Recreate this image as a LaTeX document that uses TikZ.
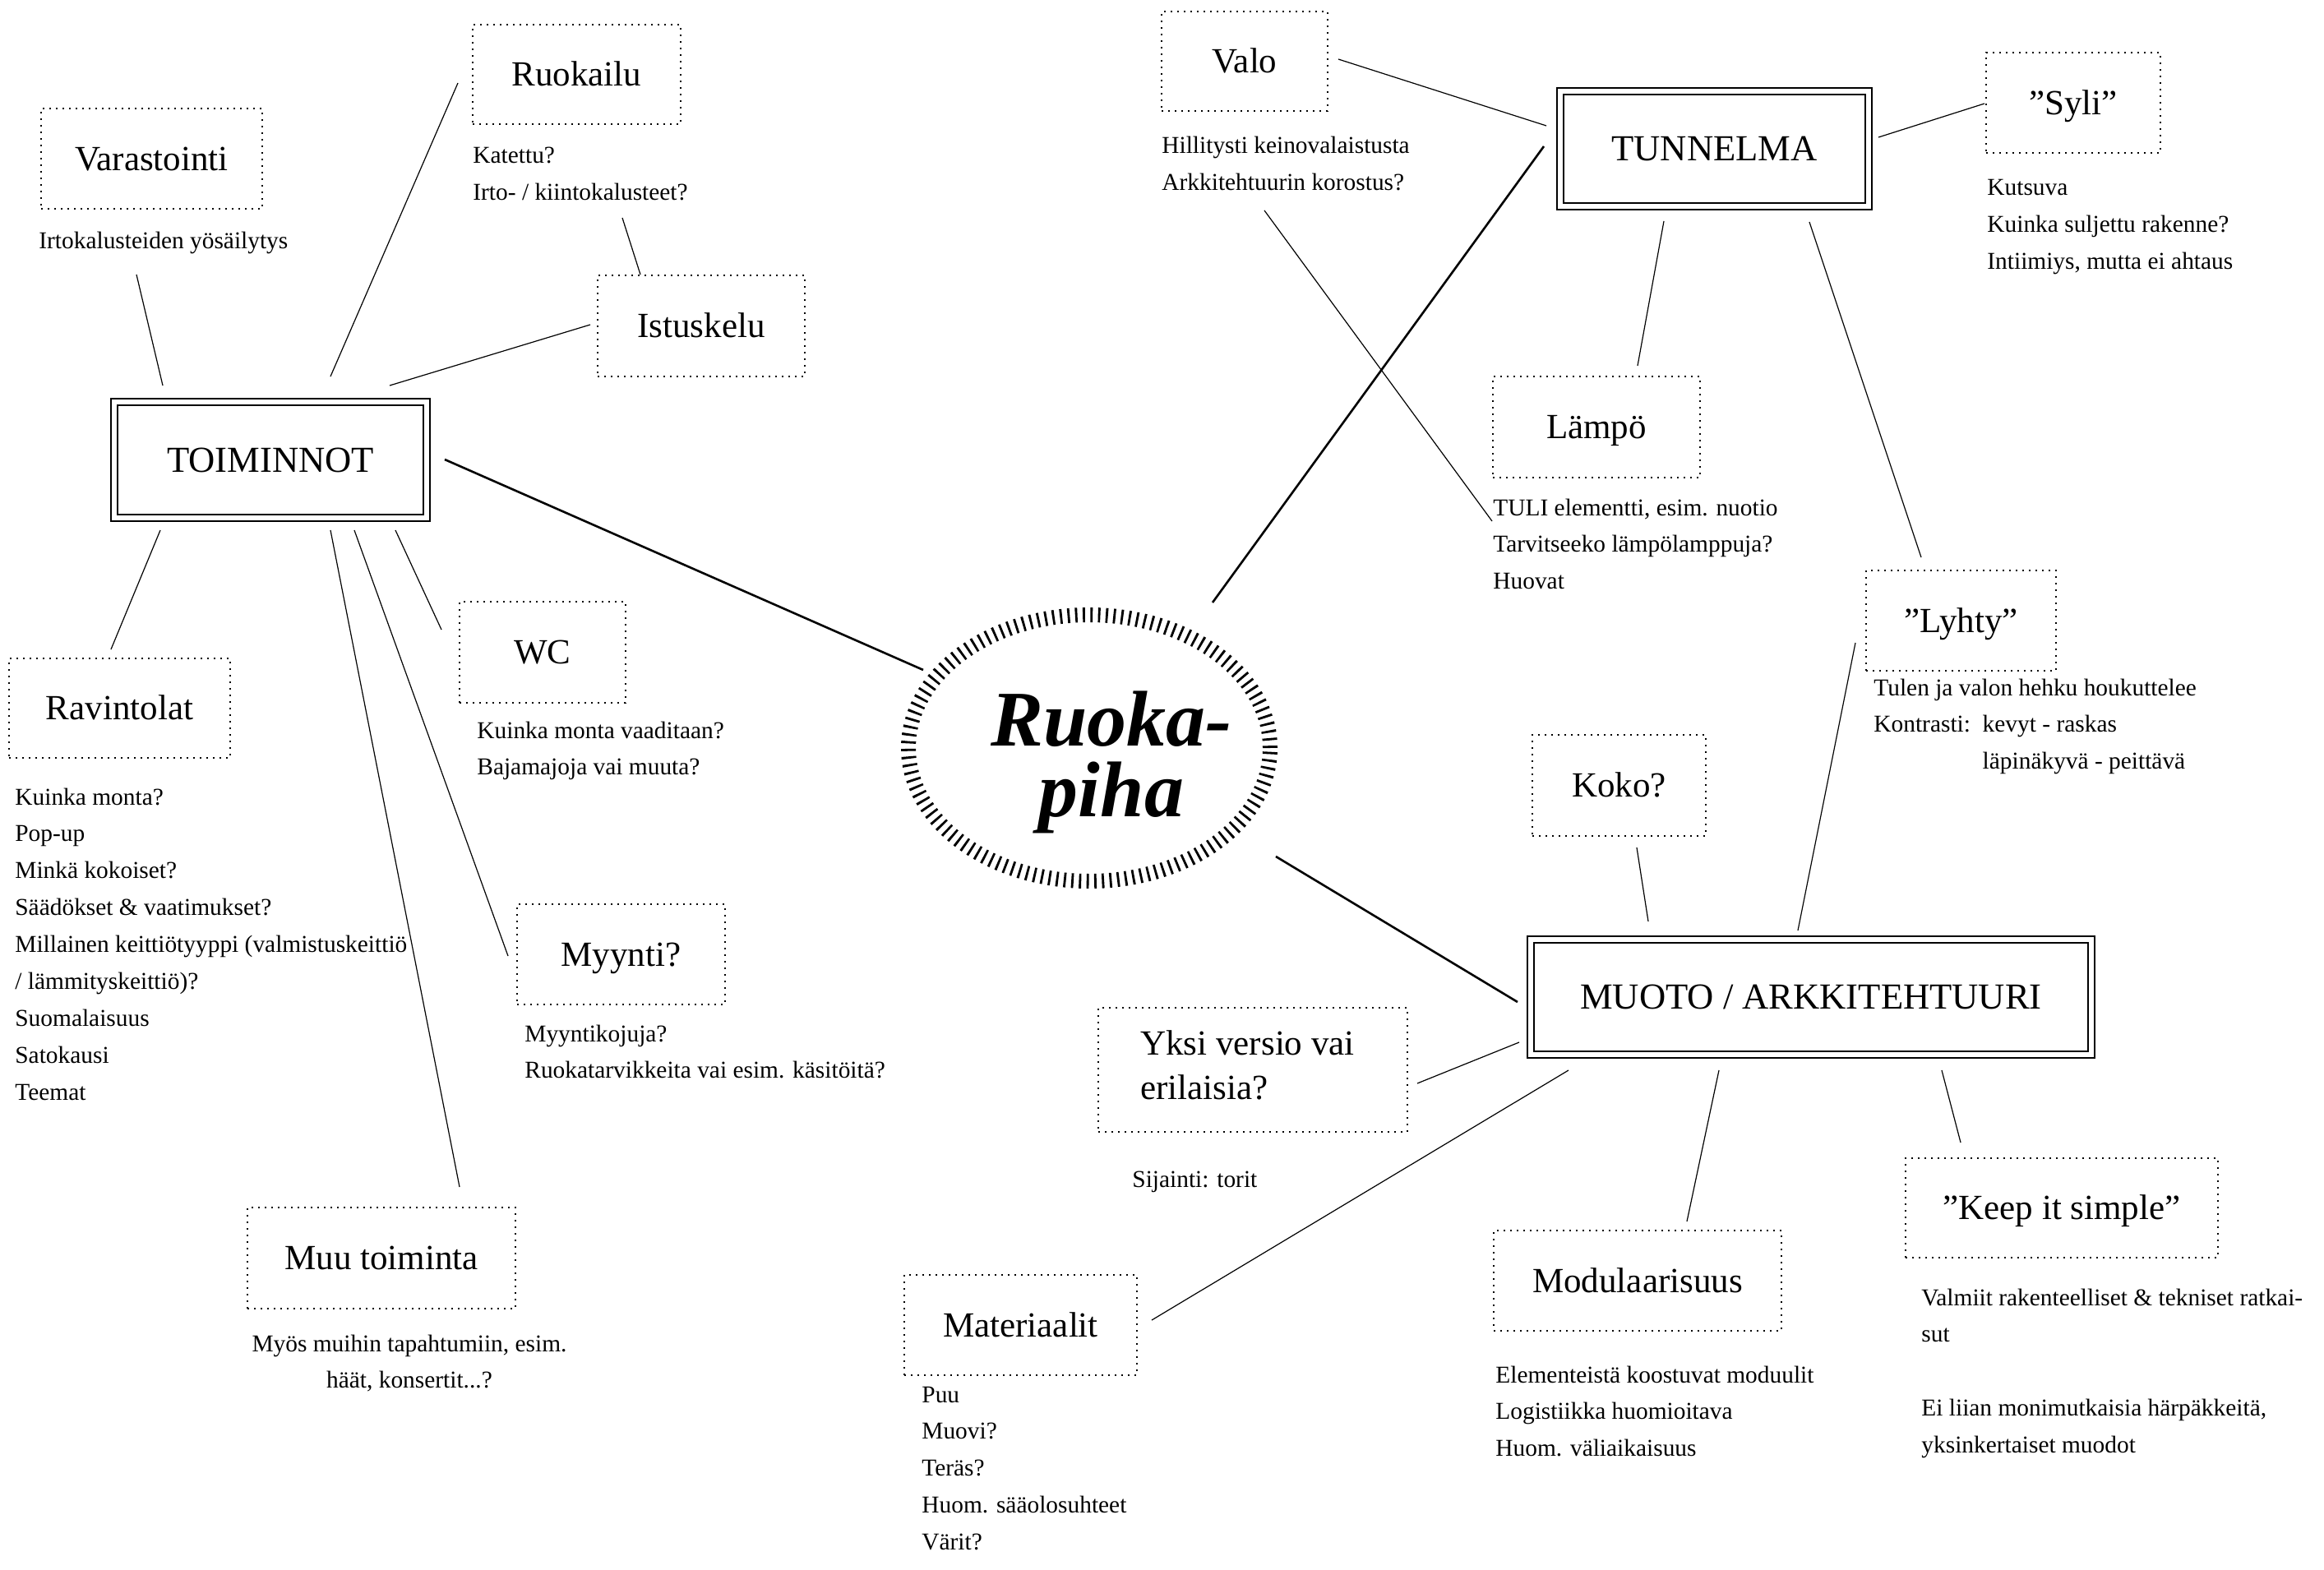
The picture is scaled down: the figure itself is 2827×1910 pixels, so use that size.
\documentclass[tikz,border=0pt]{standalone}
\usepackage{fontspec}
\setmainfont{Liberation Serif}
\usetikzlibrary{shapes.geometric,calc}
\newcommand\labfont{\fontsize{21.5}{26}\selectfont}
\newcommand\capfont{\fontsize{22.3}{26}\selectfont}
\newcommand\notefont{\fontsize{14.7}{22.45}\selectfont}
\newcommand\titlefont{\fontsize{48}{43}\selectfont\bfseries\itshape}
\tikzset{
  dotbox/.style={draw, line width=1pt, dash pattern=on 1pt off 3pt, inner sep=0pt, font=\labfont, text height=14.2pt, text depth=0pt},
  dblbox/.style={draw, line width=0.9pt, double, double distance=3.35pt, inner sep=0pt, font=\capfont, text height=14.8pt, text depth=0pt},
  note/.style={anchor=base west, inner sep=0pt, font=\notefont},
  conn/.style={line width=0.6pt},
  mainconn/.style={line width=1.3pt},
  hubstyle/.style={draw, ellipse, inner sep=0pt, line width=9pt, dash pattern=on 1.4pt off 3.25pt},
  titletext/.style={anchor=base, inner sep=0pt, font=\titlefont}
}
\begin{document}
\begin{tikzpicture}[x=0.5pt,y=-0.5pt]
\fill[white] (0,0) rectangle (2827,1910);
\useasboundingbox (0,0) rectangle (2827,1910);

% hub
\node[hubstyle, minimum width=220pt, minimum height=162pt] (hub) at (1325,910) {};
\node[titletext] (title) at (1352,907) {\vtop{\baselineskip=43pt\hbox to 0pt{\hss Ruoka-\hss}\hbox to 0pt{\hss piha\hss}}};

% main boxes
\node[dblbox, minimum width=190pt, minimum height=70.5pt] (toim) at (329,559.5) {TOIMINNOT};
\node[dblbox, minimum width=187.5pt, minimum height=70pt] (tunn) at (2085.5,181) {TUNNELMA};
\node[dblbox, minimum width=341pt, minimum height=70pt] (muoto) at (2203,1213) {MUOTO / ARKKITEHTUURI};

% TOIMINNOT branch
\node[dotbox, minimum width=134.5pt, minimum height=61pt] (varas) at (184.5,193) {Varastointi};
\node[note] (varasnote) at (47,303) {\vtop{\hbox{Irtokalusteiden yösäilytys}}};

\node[dotbox, minimum width=126.5pt, minimum height=60.5pt] (ruok) at (701.5,90.5) {Ruokailu};
\node[note] (ruoknote) at (575,199) {\vtop{\hbox{Katettu?}\hbox{Irto- / kiintokalusteet?}}};

\node[dotbox, minimum width=126pt, minimum height=61.5pt] (istus) at (853,396.5) {Istuskelu};

\node[dotbox, minimum width=134.5pt, minimum height=60.5pt] (ravin) at (145.5,861.5) {Ravintolat};
\node[note] (ravinnote) at (18,979) {\vtop{\hbox{Kuinka monta?}\hbox{Pop-up}\hbox{Minkä kokoiset?}\hbox{Säädökset \& vaatimukset?}\hbox{Millainen keittiötyyppi (valmistuskeittiö}\hbox{/ lämmityskeittiö)?}\hbox{Suomalaisuus}\hbox{Satokausi}\hbox{Teemat}}};

\node[dotbox, minimum width=101pt, minimum height=61.5pt] (wc) at (660,793.5) {WC};
\node[note] (wcnote) at (580,898) {\vtop{\hbox{Kuinka monta vaaditaan?}\hbox{Bajamajoja vai muuta?}}};

\node[dotbox, minimum width=126.5pt, minimum height=61pt] (myynti) at (755.5,1161) {Myynti?};
\node[note] (myynote) at (638,1267) {\vtop{\hbox{Myyntikojuja?}\hbox{Ruokatarvikkeita vai esim. käsitöitä?}}};

\node[dotbox, minimum width=163pt, minimum height=61.5pt] (muu) at (464,1530.5) {Muu toiminta};
\node[note, anchor=base] (muunote) at (498,1644) {\vtop{\hbox to 0pt{\hss Myös muihin tapahtumiin, esim.\hss}\hbox to 0pt{\hss häät, konsertit...?\hss}}};

% TUNNELMA branch
\node[dotbox, minimum width=101pt, minimum height=60.5pt] (valo) at (1514,74.5) {Valo};
\node[note] (valonote) at (1413,187) {\vtop{\hbox{Hillitysti keinovalaistusta}\hbox{Arkkitehtuurin korostus?}}};

\node[dotbox, minimum width=106pt, minimum height=61pt] (syli) at (2522,125) {”Syli”};
\node[note] (sylinote) at (2417,238) {\vtop{\hbox{Kutsuva}\hbox{Kuinka suljettu rakenne?}\hbox{Intiimiys, mutta ei ahtaus}}};

\node[dotbox, minimum width=126pt, minimum height=61.5pt] (lampo) at (1942,519.5) {Lämpö};
\node[note] (lampnote) at (1816,627) {\vtop{\hbox{TULI elementti, esim. nuotio}\hbox{Tarvitseeko lämpölamppuja?}\hbox{Huovat}}};

\node[dotbox, minimum width=115.5pt, minimum height=61pt] (lyhty) at (2385.5,755) {”Lyhty”};
\node[note] (lyhtynote) at (2279,846) {\vtop{\hbox{Tulen ja valon hehku houkuttelee}\hbox{Kontrasti:\ \ kevyt - raskas}\hbox{\phantom{Kontrasti:\ \ }läpinäkyvä - peittävä}}};

% MUOTO branch
\node[dotbox, minimum width=105.5pt, minimum height=61.5pt] (koko) at (1969.5,955.5) {Koko?};

\node[dotbox, minimum width=188pt, minimum height=75.5pt] (yksi) at (1524,1301.5) {};
\node[anchor=base west, inner sep=0pt, font=\labfont] (yksitext) at (1387,1283) {\vtop{\baselineskip=27pt\hbox{Yksi versio vai}\hbox{erilaisia?}}};
\node[note] (sijainti) at (1377,1444) {Sijainti: torit};

\node[dotbox, minimum width=141.5pt, minimum height=61pt] (mater) at (1241.5,1612) {Materiaalit};
\node[note] (matnote) at (1121,1706) {\vtop{\hbox{Puu}\hbox{Muovi?}\hbox{Teräs?}\hbox{Huom. sääolosuhteet}\hbox{Värit?}}};

\node[dotbox, minimum width=175pt, minimum height=61pt] (modul) at (1992,1558) {Modulaarisuus};
\node[note] (modnote) at (1819,1682) {\vtop{\hbox{Elementeistä koostuvat moduulit}\hbox{Logistiikka huomioitava}\hbox{Huom. väliaikaisuus}}};

\node[dotbox, minimum width=190pt, minimum height=60.5pt] (keep) at (2508,1469.5) {”Keep it simple”};
\node[note] (keepnote) at (2337,1588) {\vtop{\hbox{Valmiit rakenteelliset \& tekniset ratkai-}\hbox{sut}\hbox{}\hbox{Ei liian monimutkaisia härpäkkeitä,}\hbox{yksinkertaiset muodot}}};

% connectors
\draw[mainconn] ($(toim.center)+(212,-0.5)$) -- ($(hub.center)+(-202,-95)$);
\draw[mainconn] ($(hub.center)+(150,-177)$) -- ($(tunn.center)+(-207.5,-3)$);
\draw[mainconn] ($(hub.center)+(227,132)$) -- ($(muoto.center)+(-357,6)$);

\draw[conn] ($(toim.center)+(-131,-90.5)$) -- ($(varas.center)+(-18.5,141)$);
\draw[conn] ($(toim.center)+(73,-101.5)$) -- ($(ruok.center)+(-144.5,10.5)$);
\draw[conn] ($(toim.center)+(145,-90.5)$) -- ($(istus.center)+(-135,-1.5)$);
\draw[conn] ($(ruoknote.base west)+(182,66)$) -- ($(istus.center)+(-74,-62.5)$);
\draw[conn] ($(toim.center)+(-134,85.5)$) -- ($(ravin.center)+(-10.5,-71.5)$);
\draw[conn] ($(toim.center)+(152,85.5)$) -- ($(wc.center)+(-123,-27.5)$);
\draw[conn] ($(toim.center)+(102,85.5)$) -- ($(myynti.center)+(-137.5,2)$);
\draw[conn] ($(toim.center)+(73,85.5)$) -- ($(muu.center)+(95,-86.5)$);

\draw[conn] ($(valo.center)+(114,-2.5)$) -- ($(tunn.center)+(-204.5,-28)$);
\draw[conn] ($(tunn.center)+(199.5,-14)$) -- ($(syli.center)+(-108,1)$);
\draw[conn] ($(tunn.center)+(-61.5,88)$) -- ($(lampo.center)+(50,-74.5)$);
\draw[conn] ($(valonote.base west)+(125,69)$) -- ($(lampnote.base west)+(-1,7)$);
\draw[conn] ($(tunn.center)+(115.5,89)$) -- ($(lyhty.center)+(-48.5,-77)$);

\draw[conn] ($(lyhty.center)+(-128.5,27)$) -- ($(muoto.center)+(-16,-81)$);
\draw[conn] ($(koko.center)+(21.5,75.5)$) -- ($(muoto.center)+(-198,-92)$);
\draw[conn] ($(muoto.center)+(-355,55)$) -- ($(yksi.center)+(200,16.5)$);
\draw[conn] ($(muoto.center)+(-295,89)$) -- ($(mater.center)+(159.5,-6)$);
\draw[conn] ($(muoto.center)+(-112,89)$) -- ($(modul.center)+(60,-72)$);
\draw[conn] ($(muoto.center)+(159,89)$) -- ($(keep.center)+(-123,-79.5)$);
\end{tikzpicture}
\end{document}
